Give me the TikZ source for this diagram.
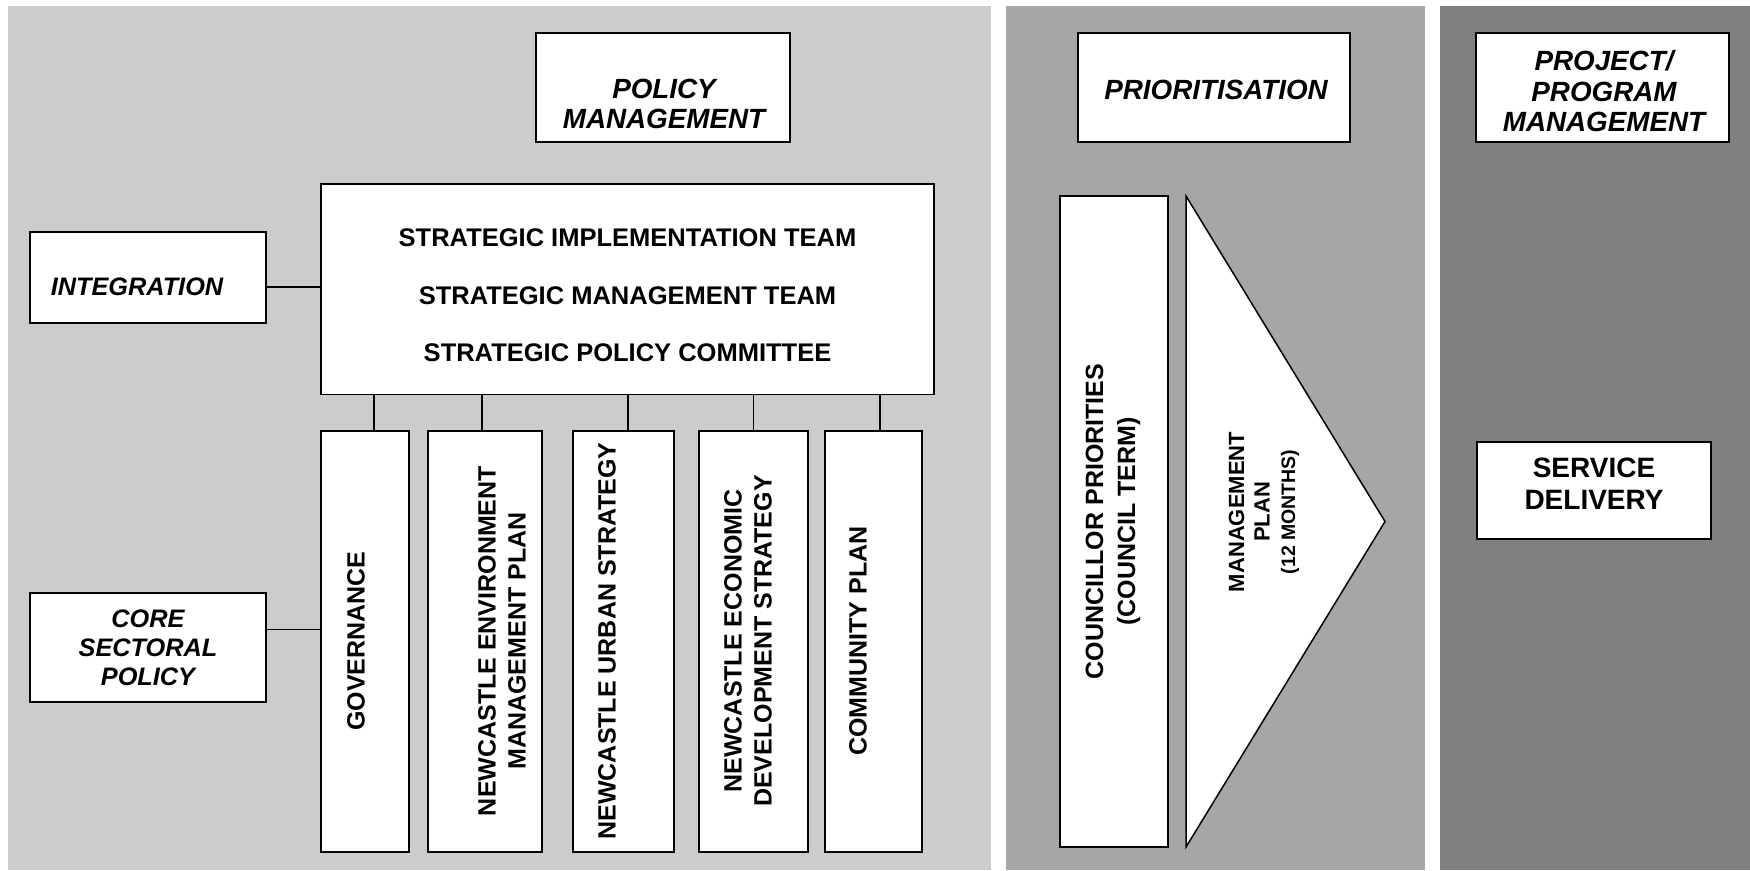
\documentclass[tikz,border=0pt]{standalone}
\usepackage{fontspec}
\setmainfont{Liberation Sans}
\usetikzlibrary{positioning}
\definecolor{paneA}{HTML}{CCCCCC}
\definecolor{paneB}{HTML}{A6A6A6}
\definecolor{paneC}{HTML}{808080}

\begin{document}
\begin{tikzpicture}[x=1pt, y=-1pt]
	\tikzstyle{Box} = [rectangle, draw=black, line width=1.5pt, fill=white, inner sep=0pt]
	\tikzstyle{Bar} = [Box, minimum height=421pt]
	\tikzstyle{HeadText} = [align=center, font=\fontsize{27.8}{30.5}\selectfont\bfseries\itshape]
	\tikzstyle{SideText} = [align=center, font=\fontsize{25.3}{29}\selectfont\bfseries\itshape]
	\tikzstyle{VText} = [rotate=90, align=center, font=\fontsize{25}{30}\selectfont\bfseries]
	\tikzstyle{link} = [line width=1.2pt, black]
	
	\useasboundingbox (0,0) rectangle (1750,870);
	\fill[paneA] (8,6) rectangle (991,870);
	\fill[paneB] (1006,6) rectangle (1425,870);
	\fill[paneC] (1440,6) rectangle (1750,870);
	
	% policy management
	\node (polhead) [Box, minimum width=254pt, minimum height=109pt] at (663,87.5) {};
	\node (poltext) [HeadText, text width=254pt] at (664,104) {POLICY\\MANAGEMENT};
	\node (strat) [Box, minimum width=613pt, minimum height=210.5pt] at (627.5,289.3) {};
	\node (strattext) [align=center, font=\fontsize{25.5}{57.5}\selectfont\bfseries] at (627.5,295.5) {STRATEGIC IMPLEMENTATION TEAM\\STRATEGIC MANAGEMENT TEAM\\STRATEGIC POLICY COMMITTEE};
	\node (integ) [Box, minimum width=236pt, minimum height=91pt] at (148,277.5) {};
	\node (integtext) [SideText] at (137,287) {INTEGRATION};
	\node (core) [Box, minimum width=236pt, minimum height=109pt] at (148,647.5) {};
	\node (coretext) [SideText] at (148,647.5) {CORE\\SECTORAL\\POLICY};
	
	\node (gov) [Bar, minimum width=88pt] at (365,641.5) {};
	\node (nemp) [Bar, minimum width=114pt] at (485,641.5) {};
	\node (nus) [Bar, minimum width=101pt] at (623.5,641.5) {};
	\node (neds) [Bar, minimum width=109pt] at (753.5,641.5) {};
	\node (comm) [Bar, minimum width=97pt] at (873.5,641.5) {};
	
	\node (govtext) [VText] at (356,641) {GOVERNANCE};
	\node (nemptext) [VText] at (502,641) {NEWCASTLE ENVIRONMENT\\MANAGEMENT PLAN};
	\node (nustext) [VText] at (607,641) {NEWCASTLE URBAN STRATEGY};
	\node (nedstext) [VText] at (748,641) {NEWCASTLE ECONOMIC\\DEVELOPMENT STRATEGY};
	\node (commtext) [VText] at (858,641) {COMMUNITY PLAN};
	
	\coordinate (intlink) at ([yshift=-9.5pt]integ.east);
	\draw[link] (intlink) -- (intlink -| strat.west);
	\coordinate (corelink) at ([yshift=18pt]core.east);
	\draw[link] (corelink) -- (corelink -| gov.west);
	\foreach \b/\dx in {gov/9, nemp/-3, nus/4.5, neds/0, comm/6.5}
		\draw[link] ([xshift=\dx pt]\b.north) -- ([xshift=\dx pt]\b.north |- strat.south);
	
	% prioritisation
	\node (prihead) [Box, minimum width=272pt, minimum height=109pt] at (1214,87.5) {};
	\node (pritext) [HeadText] at (1216,89.5) {PRIORITISATION};
	\node (council) [Box, minimum width=108pt, minimum height=651pt] at (1114,521.5) {};
	\node (counciltext) [VText, font=\fontsize{25}{32}\selectfont\bfseries] at (1113,521.5) {COUNCILLOR PRIORITIES\\(COUNCIL TERM)};
	\draw[Box] (1186,196) -- (1385,521.5) -- (1186,847) -- cycle;
	\node (plantext) [rotate=90, align=center, font=\fontsize{22}{25.5}\selectfont\bfseries] at (1264,512) {MANAGEMENT\\PLAN\\{\fontsize{19.5}{24}\selectfont (12 MONTHS)}};
	
	% project / program management
	\node (prohead) [Box, minimum width=253pt, minimum height=109pt] at (1602.5,87.5) {};
	\node (protext) [HeadText] at (1604,91.5) {PROJECT/\\PROGRAM\\MANAGEMENT};
	\node (service) [Box, minimum width=234pt, minimum height=97pt] at (1594,490.5) {};
	\node (servtext) [align=center, font=\fontsize{28}{32}\selectfont\bfseries] at (1594,484) {SERVICE\\DELIVERY};
\end{tikzpicture}
\end{document}
